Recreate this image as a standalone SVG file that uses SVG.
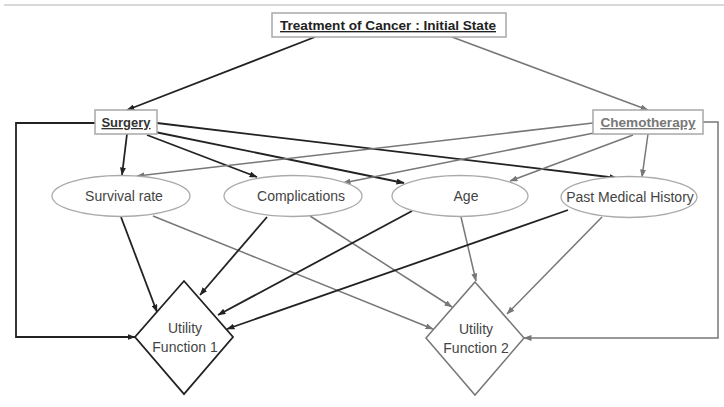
<svg xmlns="http://www.w3.org/2000/svg" width="724" height="407" viewBox="0 0 724 407">
<defs>
<marker id="ab" markerUnits="userSpaceOnUse" markerWidth="8" markerHeight="6" refX="7.5" refY="3" orient="auto"><path d="M0,0 L8,3 L0,6 z" fill="#222"/></marker>
<marker id="ag" markerUnits="userSpaceOnUse" markerWidth="8" markerHeight="6" refX="7.5" refY="3" orient="auto"><path d="M0,0 L8,3 L0,6 z" fill="#777"/></marker>
</defs>
<style>
.box{fill:#fff;stroke:#a8a8a8;stroke-width:1.5}
.ell{fill:#fff;stroke:#aaa;stroke-width:1.3}
.b{fill:none;stroke:#222;stroke-width:1.8;marker-end:url(#ab)}
.g{fill:none;stroke:#777;stroke-width:1.5;marker-end:url(#ag)}
.t{font-family:"Liberation Sans",Arial,sans-serif;font-size:14px;fill:#444;text-anchor:middle}
.h{font-family:"Liberation Sans",Arial,sans-serif;font-weight:bold;text-decoration:underline;text-anchor:middle}
</style>
<rect width="724" height="407" fill="#fff"/>
<line x1="4" y1="5" x2="724" y2="5" stroke="#ccc" stroke-width="1.5"/>
<g id="connectors">
<line class="b" x1="315" y1="37" x2="127" y2="110"/>
<line class="g" x1="452" y1="37" x2="648" y2="110"/>
<line class="b" x1="127" y1="134" x2="122" y2="175"/>
<line class="b" x1="147" y1="135" x2="257" y2="177"/>
<line class="b" x1="155" y1="132" x2="404" y2="183"/>
<line class="b" x1="157" y1="123" x2="617" y2="178"/>
<line class="g" x1="593" y1="123" x2="137" y2="176"/>
<line class="g" x1="594" y1="133" x2="343" y2="183"/>
<line class="g" x1="633" y1="135" x2="510" y2="181"/>
<line class="g" x1="648" y1="134" x2="642" y2="177"/>
<line class="b" x1="121" y1="217" x2="157" y2="312"/>
<line class="g" x1="153" y1="216" x2="433" y2="329"/>
<line class="b" x1="267" y1="217" x2="200" y2="295"/>
<line class="g" x1="310" y1="216" x2="452" y2="307"/>
<line class="b" x1="412" y1="211" x2="218" y2="315"/>
<line class="g" x1="461" y1="217" x2="476" y2="281"/>
<line class="b" x1="568" y1="210" x2="227" y2="329"/>
<line class="g" x1="602" y1="217" x2="507" y2="314"/>
<polyline class="b" points="95,123 16,123 16,337 135,337"/>
<polyline class="g" points="703,122 718,122 718,338 524,338"/>
</g>
<g id="title">
<rect class="box" x="272" y="13" width="234" height="24"/>
<text class="h" x="388" y="30" font-size="13.6" fill="#222">Treatment of Cancer : Initial State</text>
</g>
<g id="surgery">
<rect class="box" x="95" y="110" width="62" height="24"/>
<text class="h" x="126" y="127" font-size="13" fill="#333">Surgery</text>
</g>
<g id="chemotherapy">
<rect class="box" x="593" y="110" width="110" height="24"/>
<text class="h" x="648" y="127" font-size="13.6" fill="#777">Chemotherapy</text>
</g>
<g id="survival">
<ellipse class="ell" cx="121" cy="196" rx="69" ry="20.5"/>
<text class="t" x="124" y="201">Survival rate</text>
</g>
<g id="complications">
<ellipse class="ell" cx="293" cy="196" rx="69" ry="20.5"/>
<text class="t" x="301" y="201">Complications</text>
</g>
<g id="age">
<ellipse class="ell" cx="460" cy="196" rx="68" ry="20.5"/>
<text class="t" x="466" y="201">Age</text>
</g>
<g id="pmh">
<ellipse class="ell" cx="629" cy="197" rx="68" ry="20.5"/>
<text class="t" x="630" y="202">Past Medical History</text>
</g>
<g id="uf1">
<polygon points="184,281 233,337 184,394 135,337" fill="#fff" stroke="#222" stroke-width="1.8"/>
<text class="t" x="185" y="333" fill="#555">Utility</text>
<text class="t" x="185" y="352" fill="#555">Function 1</text>
</g>
<g id="uf2">
<polygon points="475,282 524,338 475,395 426,338" fill="#fff" stroke="#777" stroke-width="1.5"/>
<text class="t" x="476" y="334" fill="#555">Utility</text>
<text class="t" x="476" y="353" fill="#555">Function 2</text>
</g>
</svg>
